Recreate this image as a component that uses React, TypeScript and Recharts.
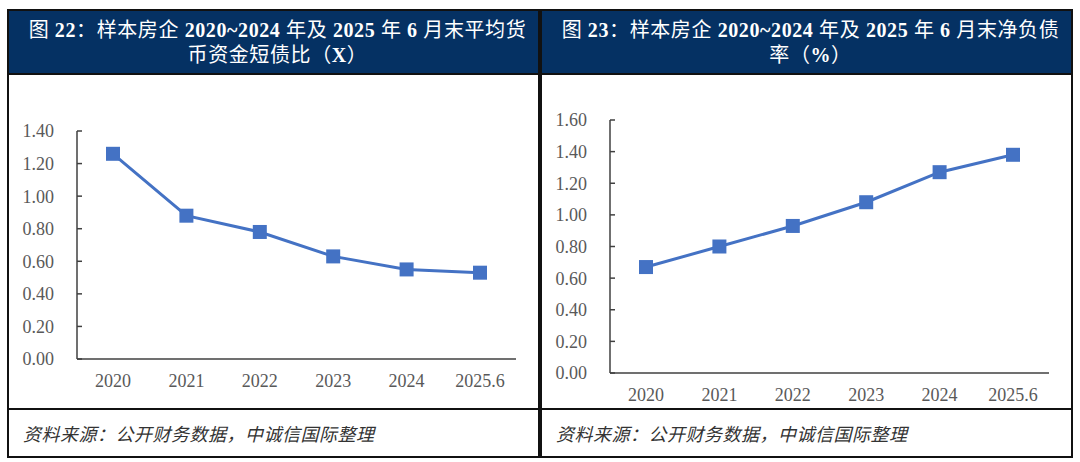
import { type FC, type ReactNode } from 'react';
import { Line, LineChart, XAxis, YAxis } from 'recharts';

const categories = ['2020', '2021', '2022', '2023', '2024', '2025.6'];
const cashToShortDebt = [1.26, 0.88, 0.78, 0.63, 0.55, 0.53];
const netDebtRatio = [0.67, 0.8, 0.93, 1.08, 1.27, 1.38];
const leftTicks = [0, 0.2, 0.4, 0.6, 0.8, 1.0, 1.2, 1.4];
const rightTicks = [0, 0.2, 0.4, 0.6, 0.8, 1.0, 1.2, 1.4, 1.6];

const SOURCE = '资料来源：公开财务数据，中诚信国际整理';

const NAVY = '#053163';
const BLUE = '#4472C4';
const SERIF = "'Liberation Serif', 'Times New Roman', 'Noto Sans CJK SC', serif";

const SquareDot = (props: any) => {
  const { cx, cy, index } = props;
  if (cx == null || cy == null) return null;
  return <rect key={`dot-${index}`} x={cx - 7} y={cy - 7} width={14} height={14} fill={BLUE} />;
};

type ChartProps = {
  values: number[];
  ticks: number[];
  margin: { top: number; right: number; left: number; bottom: number };
};

const TrendChart: FC<ChartProps> = ({ values, ticks, margin }) => {
  const data = categories.map((name, i) => ({ name, value: values[i] }));
  return (
    <LineChart width={529} height={334} data={data} margin={margin}>
      <XAxis
        dataKey="name"
        height={30}
        padding={{ left: 36, right: 36 }}
        tickLine={false}
        tickSize={0}
        tickMargin={15}
        stroke="#404040"
        strokeWidth={1.5}
        tick={{ fill: '#595959', fontSize: 18, fontFamily: SERIF }}
      />
      <YAxis
        width={68}
        domain={[0, ticks[ticks.length - 1]]}
        ticks={ticks}
        interval={0}
        tickSize={-5}
        tickMargin={28}
        stroke="#404040"
        strokeWidth={1.5}
        tickFormatter={(v: number) => v.toFixed(2)}
        tick={{ fill: '#595959', fontSize: 18, fontFamily: SERIF }}
      />
      <Line
        type="linear"
        dataKey="value"
        stroke={BLUE}
        strokeWidth={3}
        dot={<SquareDot />}
        activeDot={false}
        isAnimationActive={false}
      />
    </LineChart>
  );
};

type PanelProps = {
  left: number;
  title1: ReactNode;
  title2: ReactNode;
  children: ReactNode;
};

const Panel: FC<PanelProps> = ({ left, title1, title2, children }) => (
  <div
    style={{
      position: 'absolute',
      left,
      top: 9,
      width: 533,
      height: 449,
      border: '2px solid #111',
      boxSizing: 'border-box',
      background: '#fff',
    }}
  >
    <div
      style={{
        height: 64,
        background: NAVY,
        borderBottom: '2px solid #111',
        boxSizing: 'border-box',
        color: '#fff',
        fontFamily: SERIF,
        fontSize: 20,
        letterSpacing: 0.6,
        lineHeight: '25px',
        textAlign: 'center',
        paddingTop: 7,
        paddingLeft: 8,
        whiteSpace: 'nowrap',
      }}
    >
      <div>{title1}</div>
      <div>{title2}</div>
    </div>
    <div style={{ height: 334, position: 'relative' }}>{children}</div>
    <div
      style={{
        position: 'absolute',
        left: 0,
        right: 0,
        bottom: 0,
        height: 48,
        borderTop: '2px solid #111',
        boxSizing: 'border-box',
        display: 'flex',
        alignItems: 'center',
        paddingLeft: 14,
        fontFamily: SERIF,
        fontStyle: 'italic',
        fontSize: 18,
        letterSpacing: 0.5,
        color: '#333',
      }}
    >
      {SOURCE}
    </div>
  </div>
);

export default function App() {
  return (
    <div
      style={{
        position: 'absolute',
        left: 0,
        top: 0,
        width: 1080,
        height: 462,
        background: '#fff',
        overflow: 'hidden',
      }}
    >
      <Panel
        left={7}
        title1={
          <>
            图 <b>22</b>：样本房企 <b>2020~2024</b> 年及 <b>2025</b> 年 <b>6</b> 月末平均货
          </>
        }
        title2={
          <>
            币资金短债比（<b>X</b>）
          </>
        }
      >
        <TrendChart
          values={cashToShortDebt}
          ticks={leftTicks}
          margin={{ top: 56, right: 22, left: 0, bottom: 20 }}
        />
      </Panel>
      <Panel
        left={540}
        title1={
          <>
            图 <b>23</b>：样本房企 <b>2020~2024</b> 年及 <b>2025</b> 年 <b>6</b> 月末净负债
          </>
        }
        title2={
          <>
            率（<b>%</b>）
          </>
        }
      >
        <TrendChart
          values={netDebtRatio}
          ticks={rightTicks}
          margin={{ top: 45, right: 22, left: 0, bottom: 6 }}
        />
      </Panel>
    </div>
  );
}
